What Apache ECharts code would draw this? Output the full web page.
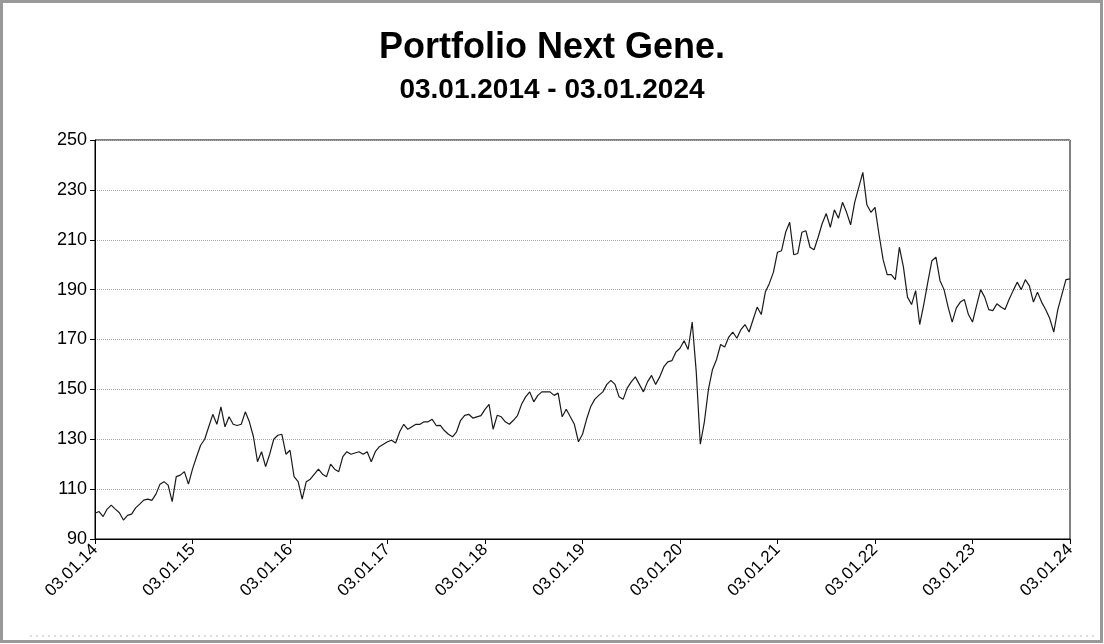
<!DOCTYPE html>
<html>
<head>
<meta charset="utf-8">
<title>Portfolio Next Gene.</title>
<script src="https://cdn.jsdelivr.net/npm/echarts@6/dist/echarts.min.js"></script>
<style>
  html, body { margin: 0; padding: 0; background: #fff; }
  #chart { width: 1104px; height: 644px; }
</style>
</head>
<body>
<div id="chart"></div>
<script>
// values, 24 points per year (about every two weeks)
var tickLabels = ['03.01.14', '03.01.15', '03.01.16', '03.01.17', '03.01.18', '03.01.19',
                  '03.01.20', '03.01.21', '03.01.22', '03.01.23', '03.01.24'];

var v2014 = [100.3, 101, 99, 102, 103.6, 102, 100.5, 97.6, 99.5, 100, 102.5, 104,
             105.6, 106, 105.5, 108, 112, 113, 111.6, 105, 115, 115.6, 117, 112];
var v2015 = [118, 123, 127.6, 130, 135, 140, 136, 143, 135, 139, 136, 135.5,
             136, 141, 137, 131, 121, 125, 119, 124, 130, 131.6, 132, 124];
var v2016 = [125.6, 115, 113, 106, 113, 114, 116, 118, 116, 115, 120, 118,
             117, 123, 125, 124, 124.5, 125, 124, 125, 121, 125, 127, 128];
var v2017 = [129, 129.6, 128.5, 133, 136, 134, 135, 136, 136, 137, 137, 138,
             135.5, 135.6, 133.5, 132, 131, 133, 137.6, 139.6, 140, 138.5, 139, 139.5];
var v2018 = [142, 144, 134, 139.6, 139, 137, 136, 137.6, 139.5, 144, 147, 149,
             145, 147.6, 149, 149, 149, 147.6, 148.5, 139, 142, 139, 136, 129];
var v2019 = [132, 138, 143, 146, 147.6, 149, 152, 153.6, 152, 147, 146, 150.5,
             153, 155, 152, 149, 153, 155.6, 152, 155, 159, 161, 161.5, 165];
var v2020 = [166.5, 169.5, 166, 177, 157, 128, 137, 150, 158, 162, 168, 167,
             171, 173, 170.5, 174, 176, 173, 178, 183, 180, 189, 192.5, 197];
var v2021 = [205, 205.6, 213, 217, 204, 204.5, 213, 213.6, 207, 206, 211, 216.5,
             220.5, 215, 222, 218.6, 225, 221, 216, 225, 231, 237, 224, 221];
var v2022 = [223, 212, 202, 196, 196, 194, 207, 199, 187, 184, 189.6, 176,
             184, 193, 201.6, 203, 193.6, 190, 183, 177, 182.6, 185, 186, 180];
var v2023 = [177, 183.6, 190, 187, 182, 181.6, 184.3, 183, 182, 186, 189.6, 193,
             190, 194, 191.5, 185, 189, 185, 182, 178.5, 173, 182, 188, 194];
var lastValue = 194.3;

var years = [v2014, v2015, v2016, v2017, v2018, v2019, v2020, v2021, v2022, v2023];

// x = years since 03.01.2014
var lineData = [];
years.forEach(function (vals, y) {
    vals.forEach(function (v, k) {
        lineData.push([y + k / vals.length, v]);
    });
});
lineData.push([years.length, lastValue]);

var chart = echarts.init(document.getElementById('chart'));
var font = 'Liberation Sans, Arial, sans-serif';

var option = {
    backgroundColor: '#fff',
    animation: false,
    title: [{
        text: 'Portfolio Next Gene.',
        left: 'center',
        top: 25,
        textStyle: { fontFamily: font, fontSize: 36, fontWeight: 'bold', color: '#000' }
    }, {
        text: '03.01.2014 - 03.01.2024',
        left: 'center',
        top: 71,
        textStyle: { fontFamily: font, fontSize: 28, fontWeight: 'bold', color: '#000' }
    }],
    grid: {
        left: 95,
        right: 34,
        top: 140,
        bottom: 105,
        show: true,
        borderColor: '#000',
        borderWidth: 1
    },
    xAxis: {
        type: 'value',
        min: 0,
        max: 10,
        interval: 1,
        axisLine: { lineStyle: { color: '#000', width: 1 } },
        axisTick: { show: true, length: 5, lineStyle: { color: '#000' } },
        axisLabel: {
            rotate: 45,
            margin: 8,
            fontFamily: font,
            fontSize: 17,
            color: '#000',
            formatter: function (val) { return tickLabels[Math.round(val)]; }
        },
        splitLine: { show: false }
    },
    yAxis: {
        type: 'value',
        min: 90,
        max: 250,
        interval: 20,
        axisLine: { show: true, lineStyle: { color: '#000', width: 1 } },
        axisTick: { show: true, length: 5, lineStyle: { color: '#000' } },
        axisLabel: { fontFamily: font, fontSize: 18, color: '#000', margin: 8 },
        splitLine: { show: true, lineStyle: { color: '#aaa', type: 'dotted', width: 1 } }
    },
    series: [{
        type: 'line',
        data: lineData,
        showSymbol: false,
        lineStyle: { color: '#1a1a1a', width: 1.2 }
    }],
    graphic: [{
        type: 'rect',
        shape: { x: 1.5, y: 1.5, width: 1100, height: 640 },
        style: { fill: 'none', stroke: '#999', lineWidth: 3 },
        silent: true
    }, {
        type: 'line',
        shape: { x1: 30, y1: 636, x2: 1096, y2: 636 },
        style: { stroke: '#bbb', lineWidth: 1, lineDash: [2, 4] },
        silent: true
    }]
};

chart.setOption(option);

window.onresize = function () {
    chart.resize();
};
</script>
</body>
</html>
